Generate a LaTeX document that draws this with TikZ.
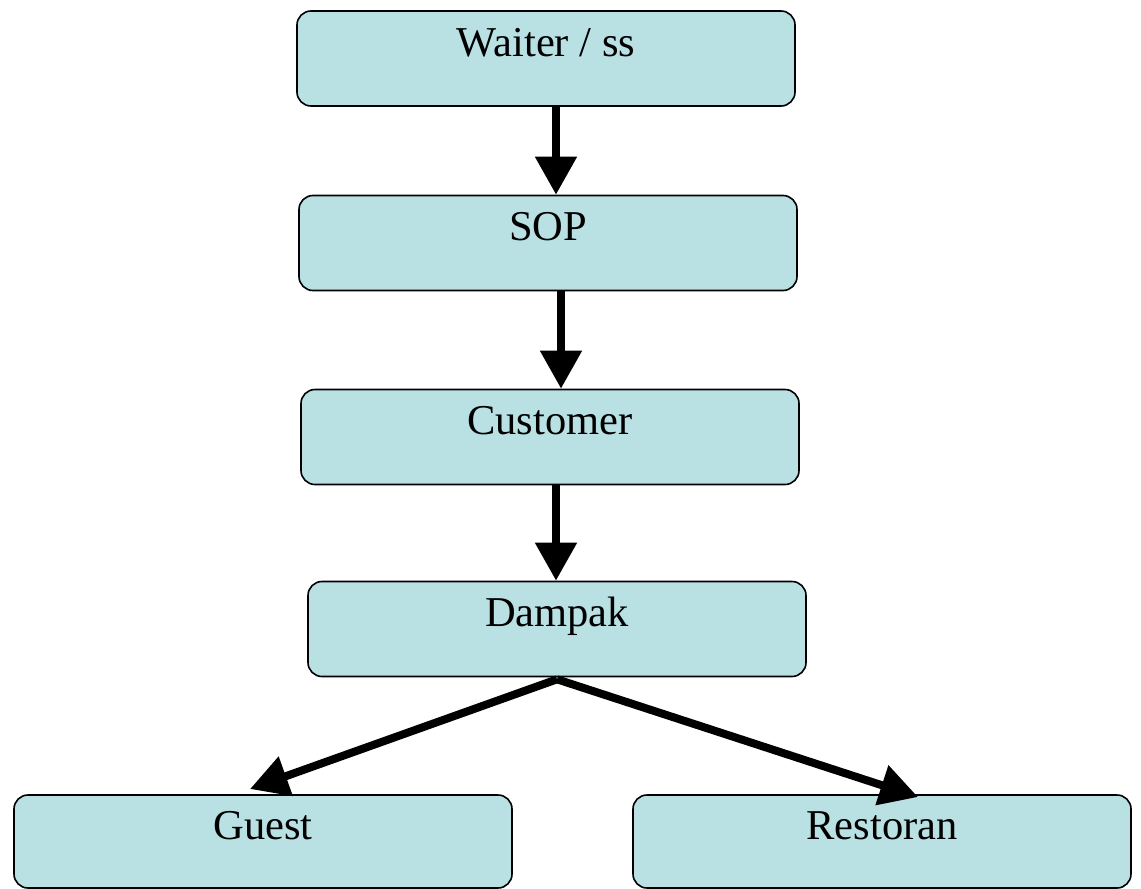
\documentclass[tikz,border=0pt]{standalone}
\usepackage{fontspec}
\setmainfont{Liberation Serif}
\usetikzlibrary{arrows.meta,calc}
\definecolor{boxfill}{RGB}{185,224,227}
\tikzset{
  box/.style={draw=black, line width=1.6pt, fill=boxfill, rounded corners=14pt,
    minimum width=498pt, minimum height=95pt, inner sep=0pt},
  lbl/.style={anchor=base, inner sep=0pt, font=\fontsize{42.5pt}{48pt}\selectfont},
  arr/.style={line width=8pt, -{Triangle[length=38pt,width=40pt]}}
}
\begin{document}
\begin{tikzpicture}[x=1pt,y=-1pt]
\useasboundingbox (0,0) rectangle (1141,889);
\node[box] (w) at (546,58.5) {};
\node[box] (s) at (548,243) {};
\node[box] (c) at (550,437) {};
\node[box] (d) at (557,629) {};
\node[box, minimum height=93pt] (g) at (263,841.5) {};
\node[box, minimum height=93pt] (r) at (882,841.5) {};
\node[lbl] (wt) at ($(w.north)+(0,46)$) {Waiter / ss};
\node[lbl] (st) at ($(s.north)+(0,46)$) {SOP};
\node[lbl] (ct) at ($(c.north)+(0,46)$) {Customer};
\node[lbl] (dt) at ($(d.north)+(0,46)$) {Dampak};
\node[lbl] (gt) at ($(g.north)+(0,45)$) {Guest};
\node[lbl] (rt) at ($(r.north)+(0,45)$) {Restoran};
\coordinate (ds) at ($(d.south)+(0,2)$);
\coordinate (gtip) at (250,789);
\coordinate (rtip) at (918,797);
\draw[arr] ([xshift=10pt]w.south) -- ([xshift=10pt]w.south |- s.north);
\draw[arr] ([xshift=13pt]s.south) -- ([xshift=13pt]s.south |- c.north);
\draw[arr] ([xshift=6pt]c.south) -- ([xshift=6pt]c.south |- d.north);
\draw[arr] (ds) -- (gtip);
\draw[arr] (ds) -- (rtip);
\end{tikzpicture}
\end{document}
